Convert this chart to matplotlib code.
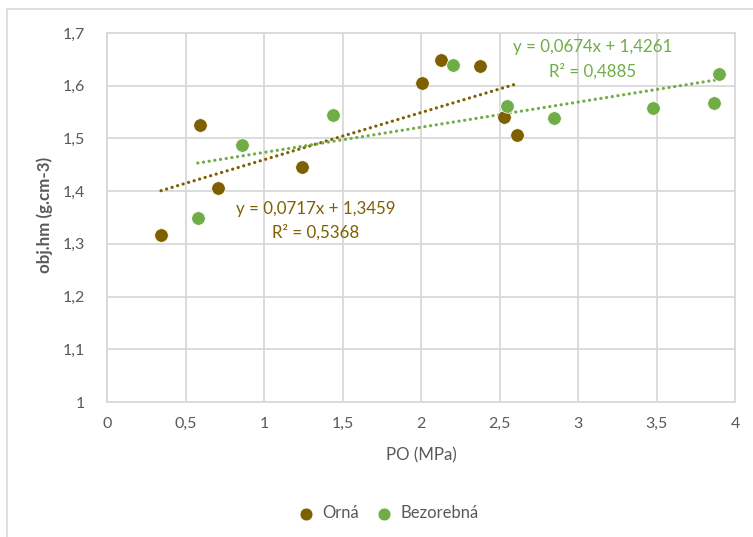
import matplotlib
matplotlib.use("Agg")
import matplotlib.pyplot as plt
import numpy as np
from matplotlib.patches import Rectangle

plt.rcParams['font.family'] = ['Lato', 'DejaVu Sans']

orna_x = [0.344, 0.592, 0.709, 1.240, 2.004, 2.130, 2.376, 2.530, 2.614]
orna_y = [1.317, 1.525, 1.406, 1.446, 1.605, 1.649, 1.638, 1.540, 1.506]
bez_x = [0.578, 0.858, 1.442, 2.206, 2.550, 2.850, 3.480, 3.865, 3.900]
bez_y = [1.349, 1.487, 1.544, 1.640, 1.561, 1.539, 1.558, 1.568, 1.623]
series_names = ['Orná', 'Bezorebná']
orna_eq = ['y = 0,0717x + 1,3459', 'R² = 0,5368']
bez_eq = ['y = 0,0674x + 1,4261', 'R² = 0,4885']
xticks = [0, 0.5, 1, 1.5, 2, 2.5, 3, 3.5, 4]
yticks = [1, 1.1, 1.2, 1.3, 1.4, 1.5, 1.6, 1.7]

c_orna = '#7F6000'
c_bez = '#70AD47'
grid_c = '#D9D9D9'
txt_c = '#595959'

W, H = 753, 537
fig = plt.figure(figsize=(W/100, H/100), dpi=100)
fig.patches.append(Rectangle((7/W, -0.1), 1.2, (H-9)/H + 0.1, transform=fig.transFigure,
                             fill=False, edgecolor=grid_c, lw=1.2))
ax = fig.add_axes([107/W, 1-402/H, (735-107)/W, (402-33)/H])
ax.set_xlim(0, 4)
ax.set_ylim(1, 1.7)
ax.set_xticks(xticks)
ax.set_yticks(yticks)
fmt = lambda v: ('%g' % v).replace('.', ',')
ax.set_xticklabels([fmt(v) for v in xticks])
ax.set_yticklabels([fmt(v) for v in yticks])
ax.tick_params(length=0, labelsize=11.5, colors=txt_c, pad=11)
ax.tick_params(axis='y', pad=16)
ax.grid(True, color=grid_c, lw=1.3)
ax.set_axisbelow(True)
for s in ax.spines.values():
    s.set_color(grid_c)
    s.set_linewidth(1.3)

ax.scatter(orna_x, orna_y, s=95, color=c_orna, edgecolors='white', linewidths=0.5, zorder=3, label=series_names[0])
ax.scatter(bez_x, bez_y, s=95, color=c_bez, edgecolors='white', linewidths=0.5, zorder=3, label=series_names[1])

for xs, ys, c in [(orna_x, orna_y, c_orna), (bez_x, bez_y, c_bez)]:
    k, q = np.polyfit(xs, ys, 1)
    xx = np.array([min(xs), max(xs)])
    ax.plot(xx, k*xx + q, color=c, lw=2.3, linestyle=(0, (0.05, 1.75)),
            dash_capstyle='round', zorder=2)

eqfs = 12.2
fig.text(316/W, 1-209/H, orna_eq[0], color=c_orna, fontsize=eqfs, ha='center', va='center')
fig.text(316/W, 1-232/H, orna_eq[1], color=c_orna, fontsize=eqfs, ha='center', va='center')
fig.text(593/W, 1-47/H, bez_eq[0], color=c_bez, fontsize=eqfs, ha='center', va='center')
fig.text(593/W, 1-71/H, bez_eq[1], color=c_bez, fontsize=eqfs, ha='center', va='center')

fig.text(421/W, 1-455/H, 'PO (MPa)', color=txt_c, fontsize=12.2, ha='center', va='center')
fig.text(45/W, 1-215/H, 'obj.hm (g.cm-3)', color=txt_c, fontsize=12.2, ha='center', va='center',
         rotation=90, fontweight='bold')

leg = fig.legend(loc='center', bbox_to_anchor=(384/W, 1-513/H), ncol=2, frameon=False,
                 fontsize=12, handletextpad=0.0, columnspacing=0.5, markerscale=0.95)
for t in leg.get_texts():
    t.set_color(txt_c)

fig.savefig('out.png', dpi=100)
